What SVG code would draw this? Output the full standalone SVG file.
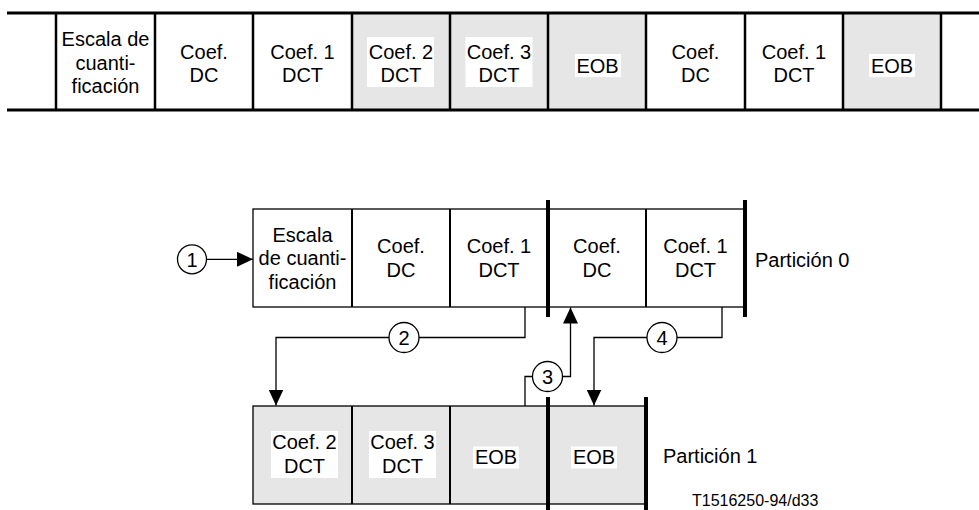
<svg xmlns="http://www.w3.org/2000/svg" width="979" height="510" viewBox="0 0 979 510">
<defs>
<style>
text{font-family:"Liberation Sans",Arial,sans-serif;font-size:20px;fill:#000;text-anchor:middle}
.grey{fill:#e6e6e6}
.hl{fill:#fff}
.bar{stroke:#000;stroke-width:4;fill:none}
.div{stroke:#000;stroke-width:2;fill:none}
.thin{stroke:#000;stroke-width:1.3;fill:none}
.conn{stroke:#000;stroke-width:1.3;fill:none}
.circ{stroke:#000;stroke-width:1.3;fill:#fff}
</style>
<marker id="arr" markerUnits="userSpaceOnUse" viewBox="0 0 16 15" markerWidth="16" markerHeight="15" refX="16" refY="7.5" orient="auto">
<path d="M0,0 L16,7.5 L0,15 z" fill="#000"/>
</marker>
</defs>
<rect width="979" height="510" fill="#fff"/>

<g id="stream">
<rect class="grey" x="352" y="13" width="294" height="97"/>
<rect class="grey" x="843" y="13" width="98" height="97"/>
<line x1="7" y1="13" x2="979" y2="13" stroke="#000" stroke-width="3"/>
<line x1="7" y1="110" x2="979" y2="110" stroke="#000" stroke-width="3"/>
<g stroke="#000" stroke-width="2.5">
<line x1="56" y1="13" x2="56" y2="110"/>
<line x1="155" y1="13" x2="155" y2="110"/>
<line x1="253" y1="13" x2="253" y2="110"/>
<line x1="352" y1="13" x2="352" y2="110"/>
<line x1="450" y1="13" x2="450" y2="110"/>
<line x1="548" y1="13" x2="548" y2="110"/>
<line x1="646" y1="13" x2="646" y2="110"/>
<line x1="745" y1="13" x2="745" y2="110"/>
<line x1="843" y1="13" x2="843" y2="110"/>
<line x1="941" y1="13" x2="941" y2="110"/>
</g>
<rect class="hl" x="367" y="37" width="67" height="50"/>
<rect class="hl" x="465.5" y="37" width="67" height="50"/>
<rect class="hl" x="575" y="54" width="46" height="23"/>
<rect class="hl" x="869" y="54" width="46" height="23"/>
<text x="105.5" y="46">Escala de</text>
<text x="105.5" y="69.5">cuanti-</text>
<text x="105.5" y="93">ficación</text>
<text x="204" y="58.5">Coef.</text><text x="204" y="81.5">DC</text>
<text x="302.5" y="58.5">Coef. 1</text><text x="302.5" y="81.5">DCT</text>
<text x="401" y="58.5">Coef. 2</text><text x="401" y="81.5">DCT</text>
<text x="499" y="58.5">Coef. 3</text><text x="499" y="81.5">DCT</text>
<text x="597.5" y="72.5">EOB</text>
<text x="695.5" y="58.5">Coef.</text><text x="695.5" y="81.5">DC</text>
<text x="794" y="58.5">Coef. 1</text><text x="794" y="81.5">DCT</text>
<text x="892" y="72.5">EOB</text>
</g>

<g id="particion0">
<rect class="thin" x="253" y="209" width="492" height="98"/>
<line class="div" x1="352" y1="209" x2="352" y2="307"/>
<line class="div" x1="450" y1="209" x2="450" y2="307"/>
<line class="div" x1="646" y1="209" x2="646" y2="307"/>
<line class="bar" x1="548" y1="200" x2="548" y2="317"/>
<line class="bar" x1="745" y1="200" x2="745" y2="317"/>
<text x="302.5" y="241.5">Escala</text>
<text x="302.5" y="265">de cuanti-</text>
<text x="302.5" y="289">ficación</text>
<text x="401" y="253">Coef.</text><text x="401" y="277">DC</text>
<text x="499" y="253">Coef. 1</text><text x="499" y="277">DCT</text>
<text x="597" y="253">Coef.</text><text x="597" y="277">DC</text>
<text x="695.5" y="253">Coef. 1</text><text x="695.5" y="277">DCT</text>
<text x="755" y="266.5" style="text-anchor:start">Partición 0</text>
</g>

<g id="particion1">
<rect class="grey" x="253" y="406" width="393" height="98"/>
<rect class="thin" x="253" y="406" width="393" height="98"/>
<line class="div" x1="352" y1="406" x2="352" y2="504"/>
<line class="div" x1="450" y1="406" x2="450" y2="504"/>
<line class="bar" x1="548" y1="397" x2="548" y2="510"/>
<line class="bar" x1="646" y1="397" x2="646" y2="510"/>
<rect class="hl" x="271" y="431" width="67" height="47"/>
<rect class="hl" x="369" y="431" width="67" height="47"/>
<rect class="hl" x="473" y="446.5" width="46" height="22"/>
<rect class="hl" x="571" y="446.5" width="46" height="22"/>
<text x="304.5" y="449">Coef. 2</text><text x="304.5" y="473">DCT</text>
<text x="402.5" y="449">Coef. 3</text><text x="402.5" y="473">DCT</text>
<text x="496" y="463.5">EOB</text>
<text x="594" y="463.5">EOB</text>
<text x="663" y="463" style="text-anchor:start">Partición 1</text>
</g>

<g id="connectors">
<line class="conn" x1="206.5" y1="259.3" x2="253" y2="259.3" marker-end="url(#arr)"/>
<polyline class="conn" points="525,307 525,337.5 419,337.5"/>
<polyline class="conn" points="389,337.5 276,337.5 276,405.5" marker-end="url(#arr)"/>
<polyline class="conn" points="525,406 525,376.5 532.5,376.5"/>
<polyline class="conn" points="562.5,376.5 570.5,376.5 570.5,307.5" marker-end="url(#arr)"/>
<polyline class="conn" points="722,307 722,337.5 677,337.5"/>
<polyline class="conn" points="647,337.5 594,337.5 594,405.5" marker-end="url(#arr)"/>
</g>

<g id="c1"><circle class="circ" cx="192" cy="259.3" r="14.5"/><text x="192" y="266.5">1</text></g>
<g id="c2"><circle class="circ" cx="404" cy="337.5" r="15"/><text x="404" y="344.5">2</text></g>
<g id="c3"><circle class="circ" cx="547.5" cy="376.5" r="15"/><text x="547.5" y="383.5">3</text></g>
<g id="c4"><circle class="circ" cx="662" cy="337.5" r="15"/><text x="662" y="344.5">4</text></g>

<text x="692" y="506" style="text-anchor:start;font-size:16px">T1516250-94/d33</text>
</svg>
